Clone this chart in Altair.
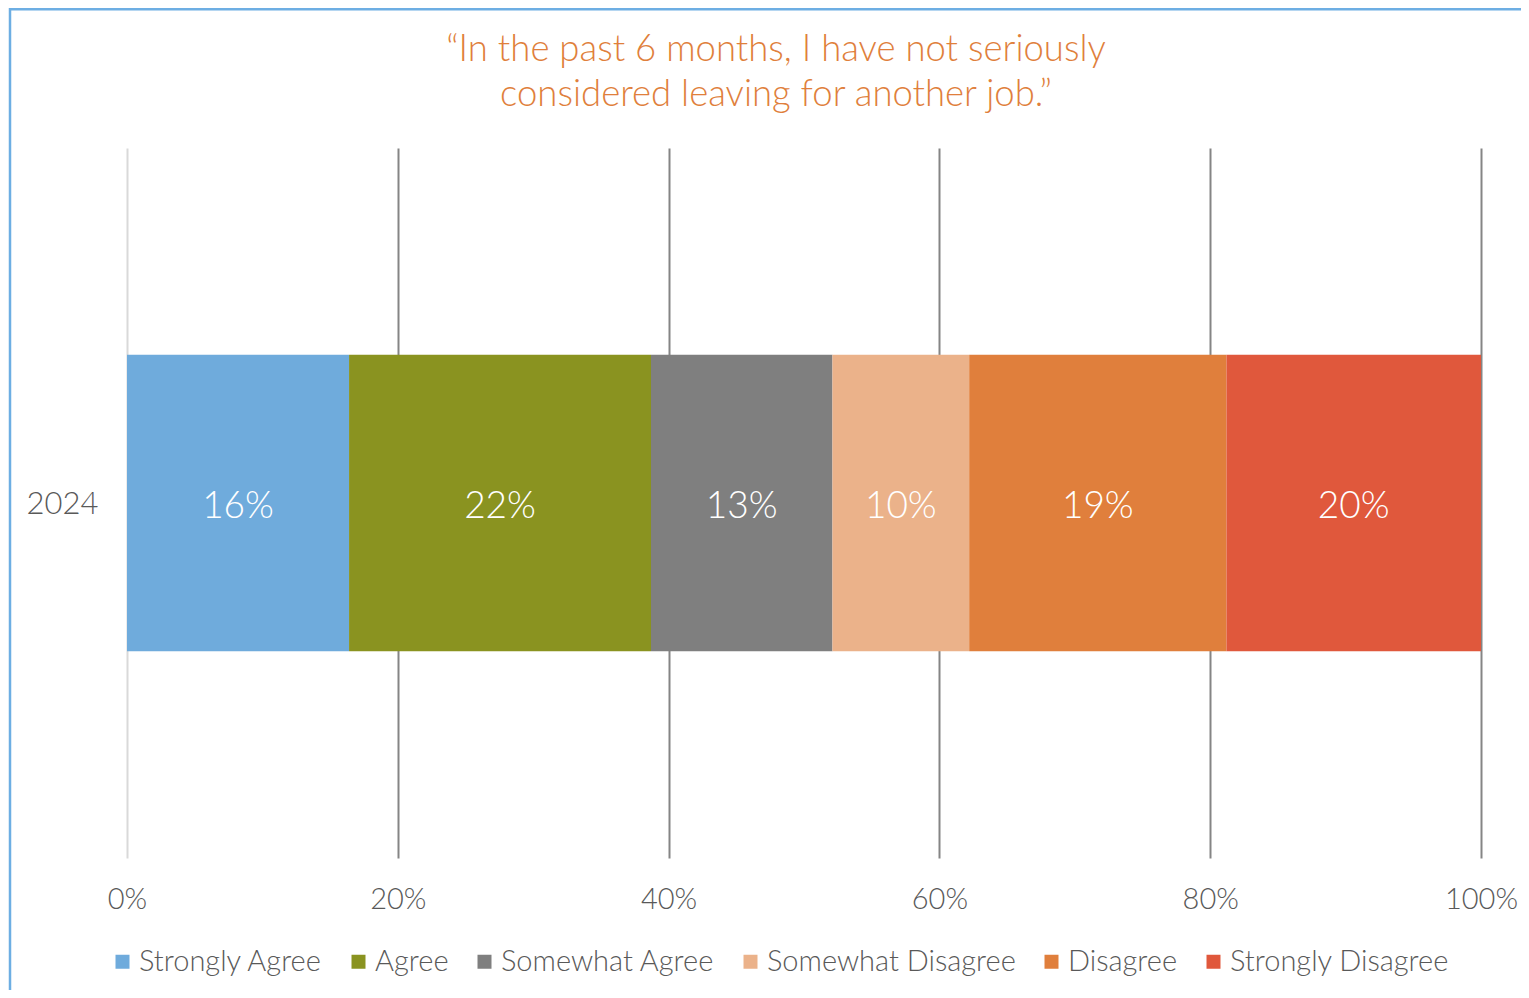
import altair as alt
import pandas as pd

# ---- data ----
years = ["2024"]
categories = ["Strongly Agree", "Agree", "Somewhat Agree",
              "Somewhat Disagree", "Disagree", "Strongly Disagree"]
values = [16.4, 22.3, 13.4, 10.1, 19.0, 18.8]
labels = ["16%", "22%", "13%", "10%", "19%", "20%"]
colors = ["#6FABDC", "#8A9320", "#7F7F7F", "#EBB28A", "#E07F3C", "#E0583C"]
x_ticks = [0, 20, 40, 60, 80, 100]
title_lines = ["\u201cIn the past 6 months, I have not seriously",
               "considered leaving for another job.\u201d"]

df = pd.DataFrame({
    "year": years * len(categories),
    "category": categories,
    "value": values,
    "label": labels,
    "order": list(range(len(categories))),
})

FONT = "Lato"
W, H = 1354, 710

base = alt.Chart(df).transform_stack(
    stack="value", groupby=["year"], as_=["x0", "x1"],
    sort=[alt.SortField("order", order="ascending")],
).transform_calculate(mid="(datum.x0 + datum.x1) / 2")

bars = base.mark_bar().encode(
    x=alt.X("x0:Q", scale=alt.Scale(domain=[0, 100], nice=False),
            axis=alt.Axis(values=x_ticks, labelExpr="datum.value + '%'",
                          title=None, grid=True, domain=False, ticks=False,
                          gridWidth=2, labelFlush=False,
                          gridColor={"condition": {"test": "datum.value === 0", "value": "#d9d9d9"},
                                     "value": "#858585"},
                          labelPadding=27, labelFontSize=29, labelColor="#595959",
                          labelFont=FONT, labelFontWeight=300)),
    x2="x1:Q",
    y=alt.Y("year:N", scale=alt.Scale(paddingInner=0.411, paddingOuter=0.411),
            axis=alt.Axis(title=None, domain=False, ticks=False, labelPadding=29,
                          labelFontSize=31, labelColor="#595959", labelFont=FONT,
                          labelFontWeight=300, labelBaseline="middle", labelOffset=2)),
    color=alt.Color("category:N", scale=alt.Scale(domain=categories, range=colors),
                    legend=alt.Legend(title=None, orient="none", direction="horizontal",
                                      legendX=-19, legendY=799,
                                      symbolType="square", symbolSize=196,
                                      symbolStrokeWidth=0, labelOffset=2,
                                      columnPadding=21, labelFontSize=29,
                                      labelLimit=0,
                                      labelColor="#595959", labelFont=FONT,
                                      labelFontWeight=300)),
)

texts = base.mark_text(color="white", fontSize=37, font=FONT, fontWeight=300,
                       baseline="middle", dy=4).encode(
    x=alt.X("mid:Q"),
    y=alt.Y("year:N"),
    text="label:N",
)

frame_df = pd.DataFrame({"a": [0]})
top_line = alt.Chart(frame_df).mark_rule(color="#6DAEE3", strokeWidth=3).encode(
    x=alt.value(-117), x2=alt.value(1400), y=alt.value(-139))
left_line = alt.Chart(frame_df).mark_rule(color="#6DAEE3", strokeWidth=2.5).encode(
    x=alt.value(-117), y=alt.value(-140), y2=alt.value(860))
title = alt.Chart(frame_df).mark_text(
    text=title_lines, fontSize=36.5, color="#E07F3C", font=FONT, fontWeight=300,
    align="center", baseline="alphabetic", lineHeight=45,
).encode(x=alt.value(649), y=alt.value(-87))

chart = alt.layer(bars, texts, top_line, left_line, title).properties(
    width=W, height=H,
    autosize=alt.AutoSizeParams(type="none"),
    padding={"left": 119, "top": 140, "right": 40, "bottom": 132},
).configure_view(stroke=None)

chart.save("out.html", embed_options={"renderer": "svg", "actions": False})
